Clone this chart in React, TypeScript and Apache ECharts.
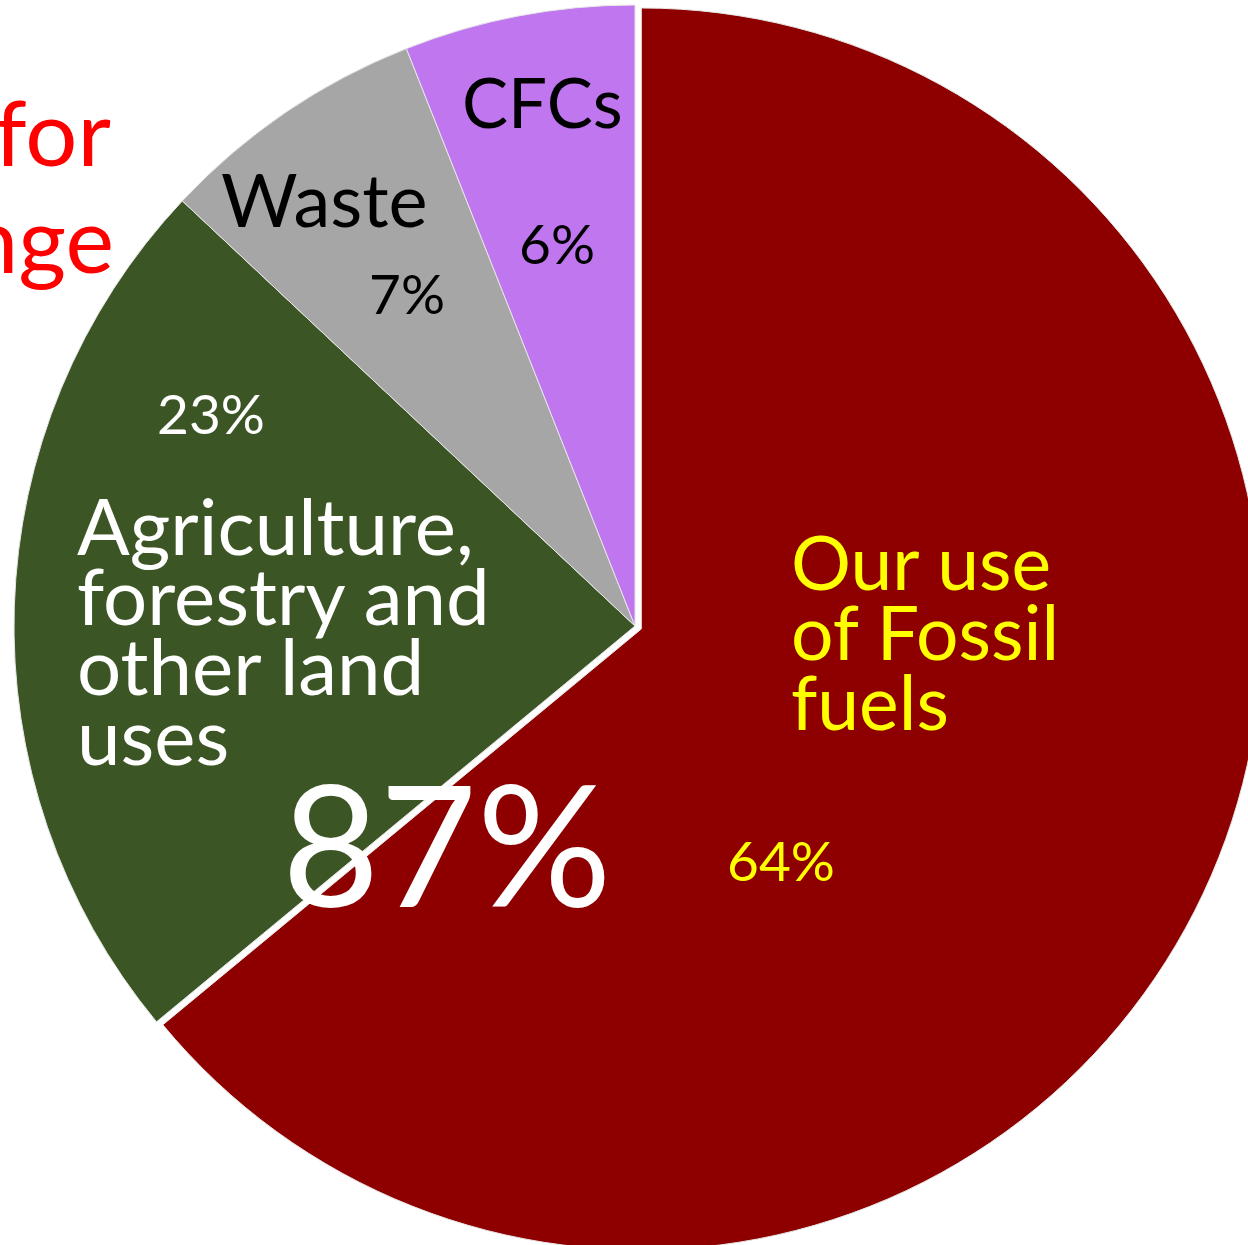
import React, { useEffect, useRef } from "react";
import * as echarts from "echarts";

const categories = ["Our use of Fossil fuels", "Agriculture, forestry and other land uses", "Waste", "CFCs"];
const values = [64, 23, 7, 6];
const colors = ["#8E0000", "#3B5524", "#A6A6A6", "#BF76EE"];
const nameLines = [["Our use", "of Fossil", "fuels"], ["Agriculture,", "forestry and", "other land", "uses"], ["Waste"], ["CFCs"]];
const labelColors = ["#FFFF00", "#FFFFFF", "#000000", "#000000"];
const titleParts = ["for", "nge"];
const totalShown = "87%";

const FONT = "Lato";

export default function App() {
  const ref = useRef<HTMLDivElement>(null);
  useEffect(() => {
    document.body.style.margin = "0";
    const chart = echarts.init(ref.current!, undefined, { renderer: "svg" });
    const namePos = [
      { x: 791, y: 631, size: 75 },
      { x: 77, y: 630, size: 78 },
      { x: 221, y: 198, size: 74 },
      { x: 462, y: 101, size: 69 },
    ];
    const pctPos = [
      { x: 727, y: 860 },
      { x: 157, y: 413 },
      { x: 369, y: 293 },
      { x: 519, y: 243 },
    ];
    const graphics: any[] = [];
    values.forEach((v, i) => {
      graphics.push({
        type: "text",
        x: namePos[i].x,
        y: namePos[i].y,
        style: {
          text: nameLines[i].join("\n"),
          fill: labelColors[i],
          font: `${namePos[i].size}px ${FONT}`,
          lineHeight: 70,
          verticalAlign: "middle",
          align: "left",
        },
        z: 10,
      });
      graphics.push({
        type: "text",
        x: pctPos[i].x,
        y: pctPos[i].y,
        style: {
          text: `${v}%`,
          fill: labelColors[i],
          font: `55px ${FONT}`,
          verticalAlign: "middle",
          align: "left",
        },
        z: 10,
      });
    });
    graphics.push({
      type: "text",
      x: 282,
      y: 842,
      style: { text: totalShown, fill: "#FFFFFF", font: `168px ${FONT}`, verticalAlign: "middle", align: "left" },
      z: 10,
    });
    graphics.push({
      type: "text",
      x: 111,
      y: 130,
      style: { text: titleParts[0], fill: "#FF0000", font: `92px ${FONT}`, verticalAlign: "middle", align: "right" },
      z: 10,
    });
    graphics.push({
      type: "text",
      x: 114,
      y: 237,
      style: { text: titleParts[1], fill: "#FF0000", font: `92px ${FONT}`, verticalAlign: "middle", align: "right" },
      z: 10,
    });

    chart.setOption({
      animation: false,
      backgroundColor: "#FFFFFF",
      series: [
        {
          type: "pie",
          center: [635, 626],
          radius: [0, 621],
          startAngle: 90,
          clockwise: true,
          selectedMode: "single",
          selectedOffset: 7,
          label: { show: false },
          labelLine: { show: false },
          emphasis: { disabled: true },
          itemStyle: { borderColor: "#E6E6E6", borderWidth: 1 },
          data: categories.map((c, i) => ({
            name: c,
            value: values[i],
            selected: i === 0,
            itemStyle: { color: colors[i] },
          })),
        },
      ],
      graphic: graphics,
    });
    return () => chart.dispose();
  }, []);
  return <div ref={ref} style={{ width: 1248, height: 1245 }} />;
}
